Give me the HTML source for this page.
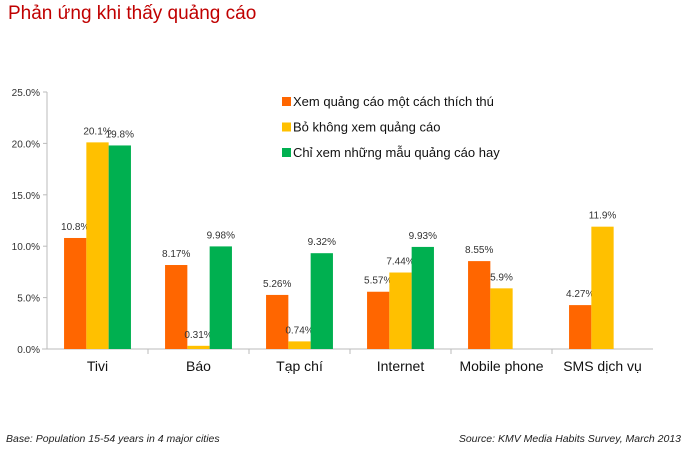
<!DOCTYPE html>
<html><head><meta charset="utf-8"><style>
body{margin:0;background:#fff;width:700px;height:449px;overflow:hidden;font-family:"Liberation Sans",sans-serif}
</style></head><body>
<svg width="700" height="449" xmlns="http://www.w3.org/2000/svg">
<text x="8" y="19" font-size="19" fill="#c00000">Phản ứng khi thấy quảng cáo</text>
<g id="axes"></g><g id="bars"></g><g id="legend"></g>
<text x="6" y="442" font-size="10.5" font-style="italic" fill="#222">Base: Population 15-54 years in 4 major cities</text>
<text x="681" y="442" font-size="10.5" font-style="italic" fill="#222" text-anchor="end">Source: KMV Media Habits Survey, March 2013</text>
</svg>
<script>
const categories=["Tivi","Báo","Tạp chí","Internet","Mobile phone","SMS dịch vụ"];
const seriesNames=["Xem quảng cáo một cách thích thú","Bỏ không xem quảng cáo","Chỉ xem những mẫu quảng cáo hay"];
const s1=[10.8,8.17,5.26,5.57,8.55,4.27];
const s2=[20.1,0.31,0.74,7.44,5.9,11.9];
const s3=[19.8,9.98,9.32,9.93,null,null];
const s1Labels=["10.8%","8.17%","5.26%","5.57%","8.55%","4.27%"];
const s2Labels=["20.1%","0.31%","0.74%","7.44%","5.9%","11.9%"];
const s3Labels=["19.8%","9.98%","9.32%","9.93%","",""];
const yTicks=[0,5,10,15,20,25];
const yTickLabels=["0.0%","5.0%","10.0%","15.0%","20.0%","25.0%"];
const colors=["#ff6600","#ffc000","#00b050"];
const NS="http://www.w3.org/2000/svg";
const x0=47,x1=653,y0=349,y1=92,ymax=25;
const bw=(x1-x0)/categories.length;
function y(v){return y0-(v/ymax)*(y0-y1);}
function mk(tag,attrs,parent){const e=document.createElementNS(NS,tag);for(const k in attrs)e.setAttribute(k,attrs[k]);parent.appendChild(e);return e;}
const ax=document.getElementById('axes'),bg=document.getElementById('bars'),lg=document.getElementById('legend');
const yl=mk('line',{x1:x0,y1:y1,x2:x0,y2:y0,stroke:'#bbb'},ax);


const xl=mk('line',{x1:x0-5,y1:y0,x2:x1,y2:y0,stroke:'#bbb'},ax);


yTicks.forEach((t,i)=>{
  mk('line',{x1:x0-4,y1:y(t),x2:x0,y2:y(t),stroke:'#bbb'},ax);
  const tx=mk('text',{x:x0-7,y:y(t)+4,'font-size':10,'text-anchor':'end',fill:'#333'},ax);
  tx.textContent=yTickLabels[i];
  
  
});
categories.forEach((c,i)=>{
  const cx=x0+bw*(i+0.5);
  if(i>0)mk('line',{x1:x0+bw*i,y1:y0,x2:x0+bw*i,y2:y0+5,stroke:'#bbb'},ax);
  const tx=mk('text',{x:cx,y:y0+22,'font-size':14,'text-anchor':'middle',fill:'#111'},ax);
  tx.textContent=c;
  
  
  [[s1,s1Labels],[s2,s2Labels],[s3,s3Labels]].forEach(([s,l],j)=>{
    const v=s[i];if(v==null)return;
    const w=22.3,bx=cx-w*1.5+w*j;
    const r=mk('rect',{x:bx,y:y(v),width:w,height:y0-y(v),fill:colors[j]},bg);
    
    
    const t=mk('text',{x:bx+w/2,y:y(v)-8,'font-size':10,'text-anchor':'middle',fill:'#333'},bg);
    t.textContent=l[i];
    
    
  });
});
seriesNames.forEach((n,j)=>{
  const ly=106+j*25.5;
  mk('rect',{x:282,y:ly-9,width:9,height:9,fill:colors[j]},lg);
  const t=mk('text',{x:293,y:ly,'font-size':13,fill:'#111'},lg);
  t.textContent=n;
  
  
});
</script>
</body></html>
